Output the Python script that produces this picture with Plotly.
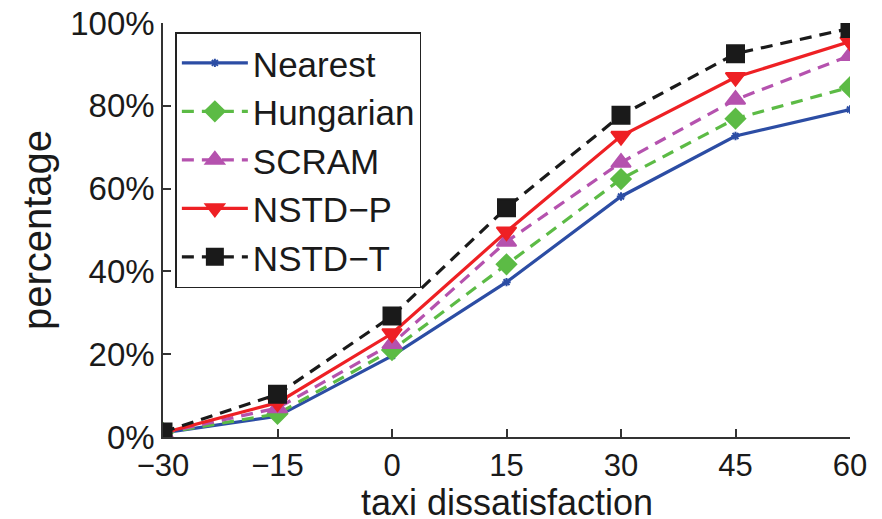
import plotly.graph_objects as go

x_vals = [-30, -15, 0, 15, 30, 45, 60]
nearest = [1.0, 5.0, 19.6, 37.4, 58.1, 72.7, 79.1]
hungarian = [1.0, 5.6, 21.0, 41.7, 62.3, 76.9, 84.5]
scram = [1.0, 7.0, 22.5, 47.2, 66.3, 81.5, 92.1]
nstd_p = [1.0, 8.3, 25.0, 49.6, 72.7, 86.9, 95.5]
nstd_t = [1.2, 10.3, 29.2, 55.4, 77.7, 92.6, 98.7]

series = [
    ("Nearest", nearest, "#2C4DA4", "solid", "asterisk-open", 7),
    ("Hungarian", hungarian, "#5CBB45", "12px,8px", "diamond", 15),
    ("SCRAM", scram, "#B552AE", "12px,8px", "triangle-up", 17),
    ("NSTD\u2212P", nstd_p, "#EE2024", "solid", "triangle-down", 17),
    ("NSTD\u2212T", nstd_t, "#1A1A1A", "12px,8px", "square", 17),
]

fig = go.Figure()
for name, ys, color, dash, sym, size in series:
    fig.add_trace(go.Scatter(
        x=x_vals, y=ys, name=name, mode="lines+markers",
        line=dict(color=color, width=3.2, dash=dash),
        marker=dict(symbol=sym, size=size, color=color,
                    line=dict(color=color, width=2)),
    ))

font_family = "Liberation Sans, Arial, sans-serif"
fig.update_layout(
    width=882, height=519,
    margin=dict(l=163, r=32, t=23, b=82),
    paper_bgcolor="white", plot_bgcolor="white",
    font=dict(family=font_family, size=32, color="#1a1a1a"),
    showlegend=True,
    legend=dict(
        x=0.018, y=0.978, xanchor="left", yanchor="top",
        bgcolor="white", bordercolor="#222", borderwidth=1.5,
        font=dict(size=35, family=font_family, color="#1a1a1a"),
        itemwidth=66,
        tracegroupgap=0,
    ),
    xaxis=dict(
        range=[-30, 60], tickvals=x_vals,
        ticktext=["\u221230", "\u221215", "0", "15", "30", "45", "60"],
        ticks="inside", ticklen=8, tickwidth=1.5, tickcolor="#333",
        showline=True, linecolor="#333", linewidth=1.5,
        showgrid=False, zeroline=False, automargin=False,
        tickfont=dict(size=31),
    ),
    yaxis=dict(
        range=[0, 100], tickvals=[0, 20, 40, 60, 80, 100],
        ticktext=["0%", "20%", "40%", "60%", "80%", "100%"],
        ticks="inside", ticklen=8, tickwidth=1.5, tickcolor="#333",
        showline=True, linecolor="#333", linewidth=1.5,
        showgrid=False, zeroline=False, automargin=False,
        title=dict(text="percentage", font=dict(size=40), standoff=6),
        tickfont=dict(size=33),
    ),
    annotations=[dict(
        text="taxi dissatisfaction", xref="paper", yref="paper",
        x=0.5, y=-0.198, xanchor="center", yanchor="bottom",
        yshift=-5, showarrow=False, borderpad=0,
        font=dict(size=36, family=font_family, color="#1a1a1a"),
    )],
)

fig.write_html("out.html")
